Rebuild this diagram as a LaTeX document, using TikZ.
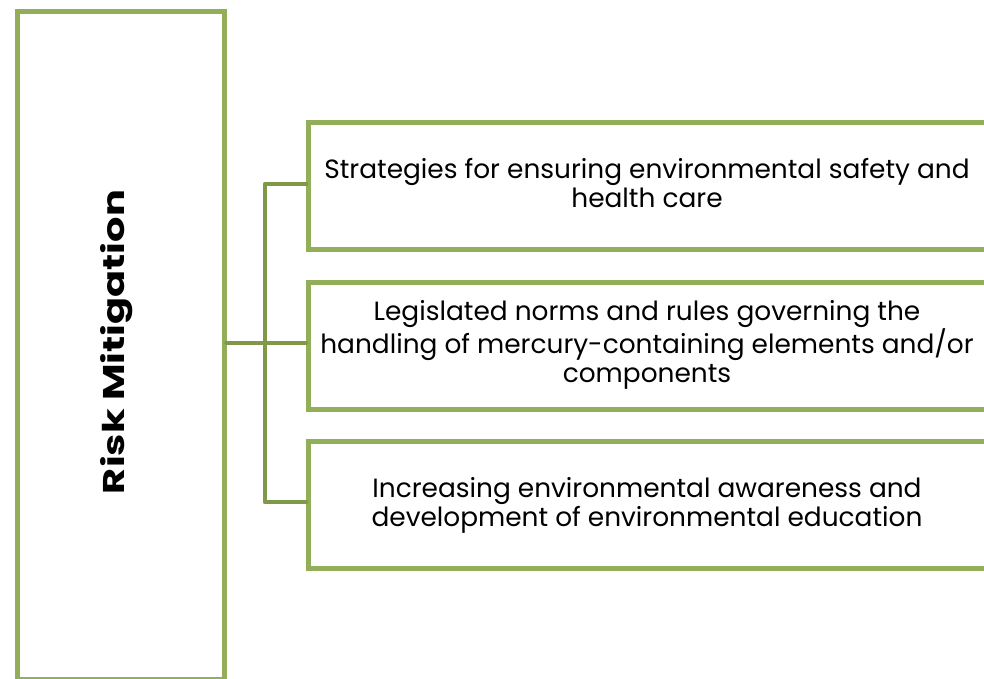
\documentclass[tikz,border=0pt]{standalone}
\usepackage{fontspec}
\setmainfont{Poppins}
\definecolor{boxgreen}{HTML}{93AE58}
\definecolor{linkgreen}{HTML}{7F9949}
\begin{document}
\begin{tikzpicture}[x=1pt,y=-1pt,
  frame/.style={draw=boxgreen,line width=4.5pt,fill=white},
  link/.style={draw=linkgreen,line width=4.5pt,line join=round,line cap=round},
  label/.style={align=center,font=\fontsize{26.4}{29}\selectfont,text=black,inner sep=0pt}]
\useasboundingbox (0,0) rectangle (984,678);
\clip (0,0) rectangle (984,678);
\coordinate (trunkTop) at (265,184);
\coordinate (trunkBot) at (265,502);
\coordinate (trunkMid) at (265,343);
\node[frame,minimum width=207pt,minimum height=668pt,anchor=north west,inner sep=0pt] (main) at (15,9) {};
\node[rotate=90,font=\fontsize{30}{34}\bfseries\selectfont,inner sep=0pt] (mainlabel) at (117,342) {\scalebox{1.33}[1]{Risk Mitigation}};
\node[frame,minimum width=684pt,minimum height=127pt,anchor=north west] (b1) at (306,120) {};
\node[frame,minimum width=684pt,minimum height=127pt,anchor=north west] (b2) at (306,280) {};
\node[frame,minimum width=684pt,minimum height=127pt,anchor=north west] (b3) at (306,439) {};
\draw[link] (main.east |- trunkMid) -- (b2.west |- trunkMid);
\draw[link] (b1.west |- trunkTop) -- (trunkTop) -- (trunkBot) -- (b3.west |- trunkBot);
\node[label] (t1) at (647,183) {Strategies for ensuring environmental safety and\\health care};
\node[label] (t2) at (647,345) {Legislated norms and rules governing the\\handling of mercury-containing elements and/or\\components};
\node[label] (t3) at (647,505) {Increasing environmental awareness and\\development of environmental education};
\end{tikzpicture}
\end{document}
